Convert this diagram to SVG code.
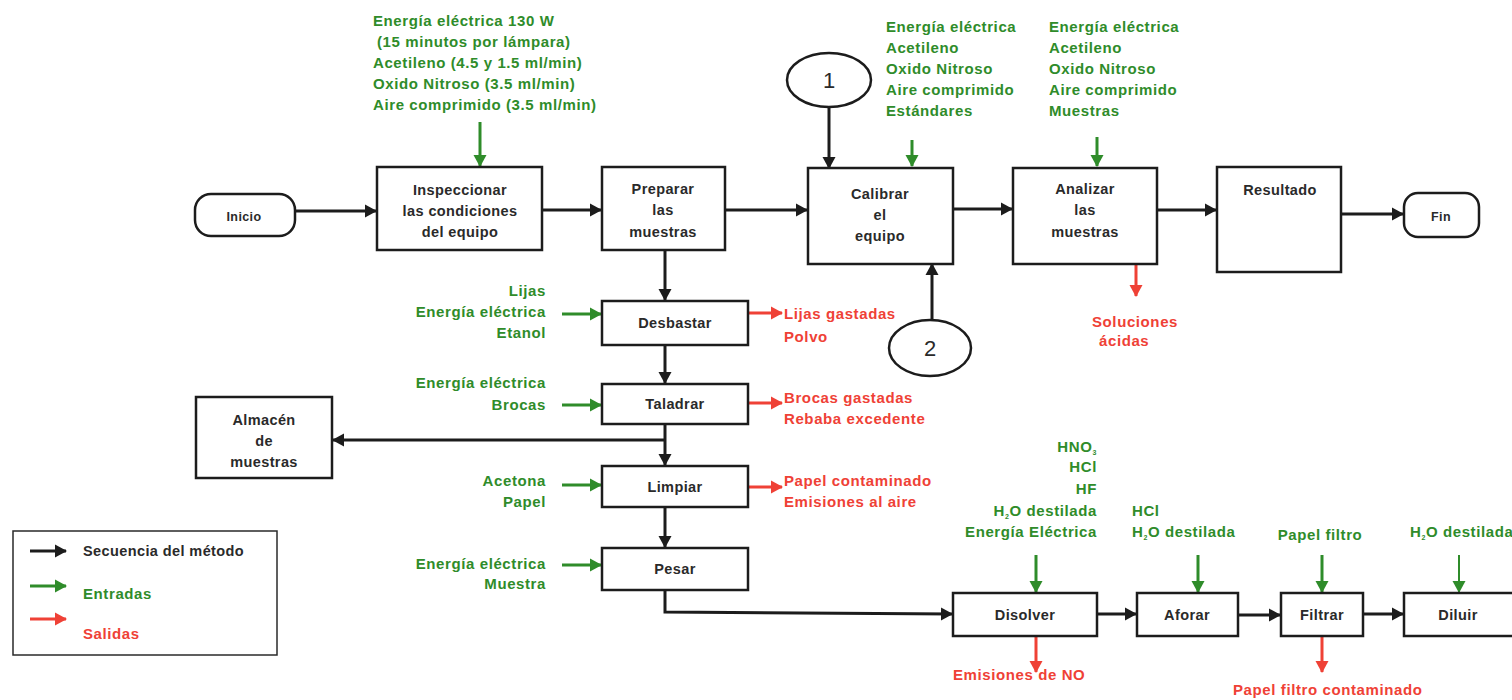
<svg xmlns="http://www.w3.org/2000/svg" width="1512" height="700" viewBox="0 0 1512 700">
<style>
  .box { fill: #ffffff; stroke: #1c1c1c; stroke-width: 2.5; }
  .t { font-family: "Liberation Sans", Arial, sans-serif; font-size: 14.5px; font-weight: bold; fill: #2a2a2a; letter-spacing: 0.4px; }
  .g { font-family: "Liberation Sans", Arial, sans-serif; font-size: 15px; font-weight: bold; fill: #2f8c2a; letter-spacing: 0.6px; }
  .r { font-family: "Liberation Sans", Arial, sans-serif; font-size: 15px; font-weight: bold; fill: #ef4136; letter-spacing: 0.6px; }
  .num { font-family: "Liberation Sans", Arial, sans-serif; font-size: 22px; fill: #2a2a2a; }
  .c { text-anchor: middle; }
  .e { text-anchor: end; }
  .seq { fill: none; stroke: #1c1c1c; stroke-width: 3; marker-end: url(#ak); }
  .in { fill: none; stroke: #2f8c2a; stroke-width: 3; marker-end: url(#ag); }
  .out { fill: none; stroke: #ef4136; stroke-width: 3; marker-end: url(#ar); }
</style>
<defs>
  <marker id="ak" markerUnits="userSpaceOnUse" markerWidth="14" markerHeight="14" refX="11" refY="7" orient="auto">
    <path d="M0,0.5 L12,7 L0,13.5 Z" fill="#1c1c1c"/>
  </marker>
  <marker id="ag" markerUnits="userSpaceOnUse" markerWidth="14" markerHeight="14" refX="11" refY="7" orient="auto">
    <path d="M0,0.5 L12,7 L0,13.5 Z" fill="#2f8c2a"/>
  </marker>
  <marker id="ar" markerUnits="userSpaceOnUse" markerWidth="14" markerHeight="14" refX="11" refY="7" orient="auto">
    <path d="M0,0.5 L12,7 L0,13.5 Z" fill="#ef4136"/>
  </marker>
</defs>
<rect width="1512" height="700" fill="#ffffff"/>

<!-- sequence, input and output connectors -->
<g id="connectors">
  <path class="seq" d="M295,211 L376,211"/>
  <path class="seq" d="M542,210 L601,210"/>
  <path class="seq" d="M725,210 L807,210"/>
  <path class="seq" d="M953,209 L1012,209"/>
  <path class="seq" d="M1157,210 L1216,210"/>
  <path class="seq" d="M1341,214 L1403,214"/>
  <path class="seq" d="M829,107 L829,168"/>
  <path class="seq" d="M932,320 L932,264"/>
  <path class="seq" d="M665,250 L665,300"/>
  <path class="seq" d="M665,345 L665,383"/>
  <path class="seq" d="M665,424 L665,465"/>
  <path class="seq" d="M665,440 L333,440"/>
  <path class="seq" d="M665,507 L665,547"/>
  <path class="seq" d="M665,590 L665,612 L952,614"/>
  <path class="seq" d="M1097,614 L1136,614"/>
  <path class="seq" d="M1238,615 L1280,615"/>
  <path class="seq" d="M1363,614 L1403,614"/>

  <path class="in" d="M480,122 L480,166"/>
  <path class="in" d="M912,140 L912,166"/>
  <path class="in" d="M1097,137 L1097,166"/>
  <path class="in" d="M562,314 L601,314"/>
  <path class="in" d="M562,405 L601,405"/>
  <path class="in" d="M562,485 L601,485"/>
  <path class="in" d="M562,565 L601,565"/>
  <path class="in" d="M1036,555 L1036,592"/>
  <path class="in" d="M1198,555 L1198,592"/>
  <path class="in" d="M1322,555 L1322,592"/>
  <path class="in" d="M1459,555 L1459,592" style="stroke-width:2"/>

  <path class="out" d="M749,313 L782,313"/>
  <path class="out" d="M749,403 L782,403"/>
  <path class="out" d="M749,487 L782,487"/>
  <path class="out" d="M1136,265 L1136,296"/>
  <path class="out" d="M1036,637 L1036,672"/>
  <path class="out" d="M1322,637 L1322,672"/>
</g>

<!-- process nodes -->
<g id="inicio">
  <rect class="box" x="195" y="194" width="100" height="42" rx="16"/>
  <text class="t c" x="244" y="221" style="font-size:12.5px">Inicio</text>
</g>
<g id="inspeccionar">
  <rect class="box" x="377" y="167" width="165" height="83"/>
  <text class="t c" x="460" y="195">Inspeccionar</text>
  <text class="t c" x="460" y="216">las condiciones</text>
  <text class="t c" x="460" y="237">del equipo</text>
</g>
<g id="preparar">
  <rect class="box" x="602" y="167" width="123" height="83"/>
  <text class="t c" x="663" y="194">Preparar</text>
  <text class="t c" x="663" y="215">las</text>
  <text class="t c" x="663" y="237">muestras</text>
</g>
<g id="calibrar">
  <rect class="box" x="808" y="168" width="145" height="96"/>
  <text class="t c" x="880" y="199">Calibrar</text>
  <text class="t c" x="880" y="220">el</text>
  <text class="t c" x="880" y="241">equipo</text>
</g>
<g id="analizar">
  <rect class="box" x="1013" y="168" width="144" height="96"/>
  <text class="t c" x="1085" y="194">Analizar</text>
  <text class="t c" x="1085" y="215">las</text>
  <text class="t c" x="1085" y="237">muestras</text>
</g>
<g id="resultado">
  <rect class="box" x="1217" y="167" width="124" height="105"/>
  <text class="t c" x="1280" y="195">Resultado</text>
</g>
<g id="fin">
  <rect class="box" x="1404" y="193" width="75" height="44" rx="14"/>
  <text class="t c" x="1441" y="221" style="font-size:12.5px">Fin</text>
</g>
<g id="conector-1">
  <ellipse cx="829" cy="80" rx="42" ry="27" fill="#ffffff" stroke="#1c1c1c" stroke-width="2.5"/>
  <text class="num c" x="829" y="88">1</text>
</g>
<g id="conector-2">
  <ellipse cx="930" cy="348" rx="41" ry="28" fill="#ffffff" stroke="#1c1c1c" stroke-width="2.5"/>
  <text class="num c" x="930" y="356">2</text>
</g>
<g id="desbastar">
  <rect class="box" x="602" y="301" width="146" height="44"/>
  <text class="t c" x="675" y="328">Desbastar</text>
</g>
<g id="taladrar">
  <rect class="box" x="602" y="384" width="146" height="40"/>
  <text class="t c" x="675" y="409">Taladrar</text>
</g>
<g id="almacen">
  <rect class="box" x="196" y="397" width="136" height="81"/>
  <text class="t c" x="264" y="425">Almacén</text>
  <text class="t c" x="264" y="446">de</text>
  <text class="t c" x="264" y="467">muestras</text>
</g>
<g id="limpiar">
  <rect class="box" x="602" y="466" width="146" height="41"/>
  <text class="t c" x="675" y="492">Limpiar</text>
</g>
<g id="pesar">
  <rect class="box" x="602" y="548" width="146" height="42"/>
  <text class="t c" x="675" y="574">Pesar</text>
</g>
<g id="disolver">
  <rect class="box" x="953" y="593" width="144" height="43"/>
  <text class="t c" x="1025" y="620">Disolver</text>
</g>
<g id="aforar">
  <rect class="box" x="1137" y="593" width="101" height="43"/>
  <text class="t c" x="1187" y="620">Aforar</text>
</g>
<g id="filtrar">
  <rect class="box" x="1281" y="593" width="82" height="43"/>
  <text class="t c" x="1322" y="620">Filtrar</text>
</g>
<g id="diluir">
  <rect class="box" x="1404" y="593" width="120" height="43"/>
  <text class="t c" x="1458" y="620">Diluir</text>
</g>

<!-- inputs (green) -->
<g id="entradas">
  <text class="g" x="373" y="26">Energía eléctrica 130 W</text>
  <text class="g" x="377" y="47">(15 minutos por lámpara)</text>
  <text class="g" x="373" y="68">Acetileno (4.5 y 1.5 ml/min)</text>
  <text class="g" x="373" y="89">Oxido Nitroso (3.5 ml/min)</text>
  <text class="g" x="373" y="110">Aire comprimido (3.5 ml/min)</text>

  <text class="g" x="886" y="32">Energía eléctrica</text>
  <text class="g" x="886" y="53">Acetileno</text>
  <text class="g" x="886" y="74">Oxido Nitroso</text>
  <text class="g" x="886" y="95">Aire comprimido</text>
  <text class="g" x="886" y="116">Estándares</text>

  <text class="g" x="1049" y="32">Energía eléctrica</text>
  <text class="g" x="1049" y="53">Acetileno</text>
  <text class="g" x="1049" y="74">Oxido Nitroso</text>
  <text class="g" x="1049" y="95">Aire comprimido</text>
  <text class="g" x="1049" y="116">Muestras</text>

  <text class="g e" x="546" y="296">Lijas</text>
  <text class="g e" x="546" y="317">Energía eléctrica</text>
  <text class="g e" x="546" y="338">Etanol</text>
  <text class="g e" x="546" y="388">Energía eléctrica</text>
  <text class="g e" x="546" y="410">Brocas</text>
  <text class="g e" x="546" y="486">Acetona</text>
  <text class="g e" x="546" y="507">Papel</text>
  <text class="g e" x="546" y="569">Energía eléctrica</text>
  <text class="g e" x="546" y="589">Muestra</text>

  <text class="g e" x="1097" y="452">HNO<tspan font-size="7" dy="3">3</tspan></text>
  <text class="g e" x="1097" y="472">HCl</text>
  <text class="g e" x="1097" y="494">HF</text>
  <text class="g e" x="1097" y="516">H<tspan font-size="7" dy="3">2</tspan><tspan dy="-3">O destilada</tspan></text>
  <text class="g e" x="1097" y="537">Energía Eléctrica</text>
  <text class="g" x="1132" y="516">HCl</text>
  <text class="g" x="1132" y="537">H<tspan font-size="7" dy="3">2</tspan><tspan dy="-3">O destilada</tspan></text>
  <text class="g c" x="1320" y="540">Papel filtro</text>
  <text class="g" x="1410" y="537">H<tspan font-size="7" dy="3">2</tspan><tspan dy="-3">O destilada</tspan></text>
</g>

<!-- outputs (red) -->
<g id="salidas">
  <text class="r" x="784" y="319">Lijas gastadas</text>
  <text class="r" x="784" y="342">Polvo</text>
  <text class="r" x="784" y="403">Brocas gastadas</text>
  <text class="r" x="784" y="424">Rebaba excedente</text>
  <text class="r" x="784" y="486">Papel contaminado</text>
  <text class="r" x="784" y="507">Emisiones al aire</text>
  <text class="r" x="1092" y="327">Soluciones</text>
  <text class="r" x="1099" y="346">ácidas</text>
  <text class="r" x="953" y="680">Emisiones de NO</text>
  <text class="r" x="1233" y="695">Papel filtro contaminado</text>
</g>

<!-- legend -->
<g id="leyenda">
  <rect x="13" y="531" width="264" height="124" fill="#ffffff" stroke="#2a2a2a" stroke-width="1.5"/>
  <path class="seq" d="M30,551 L66,551"/>
  <text class="t" x="83" y="556">Secuencia del método</text>
  <path class="in" d="M30,586 L66,586"/>
  <text class="g" x="83" y="599">Entradas</text>
  <path class="out" d="M30,619 L66,619"/>
  <text class="r" x="83" y="639">Salidas</text>
</g>
</svg>
